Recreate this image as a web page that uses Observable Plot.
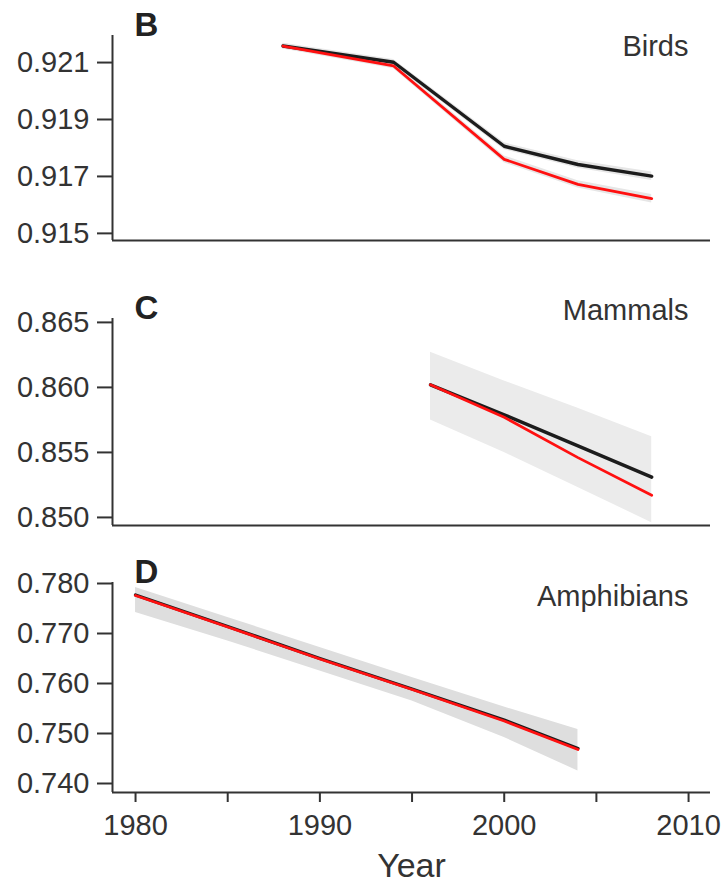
<!DOCTYPE html>
<html>
<head>
<meta charset="utf-8">
<script src="https://cdn.jsdelivr.net/npm/d3@7"></script>
<script src="https://cdn.jsdelivr.net/npm/@observablehq/plot@0.6"></script>
<style>
  html, body { margin: 0; padding: 0; background: #fff; }
  #chart { width: 724px; }
  #chart svg { display: block; font-family: "Liberation Sans", Arial, sans-serif; color: #333; background: #fff; }
</style>
</head>
<body>
<div id="chart"></div>
<script>
// ---- Data ----
const xTicks = [1980, 1985, 1990, 1995, 2000, 2005, 2010];

// Panel B: Birds (thin confidence halos around each line)
const birdsYears   = [1988, 1994, 2000, 2004, 2008];
const birdsBlack   = [0.92158, 0.92101, 0.91806, 0.91742, 0.91701];
const birdsRed     = [0.92158, 0.92088, 0.91760, 0.91672, 0.91622];
const birdsBlackHi = [0.92168, 0.92111, 0.91818, 0.91755, 0.91716];
const birdsBlackLo = [0.92148, 0.92091, 0.91794, 0.91729, 0.91686];
const birdsRedHi   = [0.92168, 0.92098, 0.91772, 0.91685, 0.91637];
const birdsRedLo   = [0.92148, 0.92078, 0.91748, 0.91659, 0.91607];
const birdsTicks   = [0.915, 0.917, 0.919, 0.921];

// Panel C: Mammals
const mammalsYears = [1996, 2000, 2004, 2008];
const mammalsBlack = [0.8602, 0.8579, 0.8555, 0.8531];
const mammalsRed   = [0.8602, 0.8577, 0.8546, 0.8517];
const mammalsHi    = [0.8627, 0.8605, 0.8584, 0.8562];
const mammalsLo    = [0.8575, 0.8550, 0.8523, 0.8496];
const mammalsTicks = [0.850, 0.855, 0.860, 0.865];

// Panel D: Amphibians
const amphYears = [1980, 1985, 1990, 1995, 2000, 2004];
const amphBlack = [0.7777, 0.7714, 0.7650, 0.7589, 0.7527, 0.7470];
const amphRed   = [0.7776, 0.7713, 0.7649, 0.7588, 0.7525, 0.7468];
const amphHi    = [0.7792, 0.7732, 0.7672, 0.7612, 0.7553, 0.7508];
const amphLo    = [0.7742, 0.7685, 0.7625, 0.7565, 0.7492, 0.7425];
const amphTicks = [0.740, 0.750, 0.760, 0.770, 0.780];

const panelLetters = ["B", "C", "D"];
const panelNames = ["Birds", "Mammals", "Amphibians"];
const xLabel = "Year";

// ---- Helpers ----
const xDomain = [1978.75, 2011.19];
const FONT = "Liberation Sans, Arial, sans-serif";

function rows(years, black, red) {
  return years.map((y, i) => ({year: y, black: black[i], red: red[i]}));
}
function band(years, hi, lo) {
  return years.map((y, i) => ({year: y, hi: hi[i], lo: lo[i]}));
}

function panel({data, bands, bandFill, yDomain, yTicks, height, marginTop, marginBottom, letter, name, letterDy, nameDy, bottomAxis}) {
  const marks = [
    ...bands.map(b => Plot.areaY(b, {x: "year", y1: "lo", y2: "hi", fill: bandFill})),
    Plot.lineY(data, {x: "year", y: "black", stroke: "#1c1c1c", strokeWidth: 3.4}),
    Plot.lineY(data, {x: "year", y: "red", stroke: "#ff1010", strokeWidth: 2.8}),
    Plot.axisY({ticks: yTicks, tickSize: 15, tickPadding: 8, tickFormat: d3.format(".3f"),
                fontSize: 29, label: null, stroke: "#333", strokeWidth: 2}),
    Plot.ruleX([xDomain[0]], {stroke: "#333", strokeWidth: 2}),
    Plot.ruleY([yDomain[0]], {stroke: "#333", strokeWidth: 2}),
    Plot.text([letter], {text: d => d, frameAnchor: "top-left", textAnchor: "start", lineAnchor: "middle",
                         dx: 22, dy: letterDy, fontSize: 33, fontWeight: "bold", fill: "#222"}),
    Plot.text([name], {text: d => d, frameAnchor: "top-right", textAnchor: "end", lineAnchor: "middle",
                       dx: -22, dy: nameDy, fontSize: 29, fill: "#333"})
  ];
  if (bottomAxis) {
    marks.push(
      Plot.axisX({ticks: xTicks, tickSize: 10, tickPadding: 12, fontSize: 29, label: null,
                  tickFormat: d => (d % 10 === 0 ? String(d) : ""), stroke: "#333", strokeWidth: 2}),
      Plot.text([xLabel], {text: d => d, frameAnchor: "bottom", lineAnchor: "middle", dy: 74,
                           fontSize: 34, fill: "#333"})
    );
  }
  return Plot.plot({
    width: 724, height, marginLeft: 112, marginRight: 14, marginTop, marginBottom,
    style: {fontFamily: FONT, color: "#333", background: "#fff"},
    x: bottomAxis ? {domain: xDomain} : {domain: xDomain, axis: null},
    y: {domain: yDomain},
    marks
  });
}

const chart = document.getElementById("chart");

chart.append(panel({
  data: rows(birdsYears, birdsBlack, birdsRed),
  bands: [band(birdsYears, birdsBlackHi, birdsBlackLo), band(birdsYears, birdsRedHi, birdsRedLo)],
  bandFill: "#e6e6e6",
  yDomain: [0.91475, 0.92195], yTicks: birdsTicks,
  height: 260, marginTop: 35, marginBottom: 20,
  letter: panelLetters[0], name: panelNames[0], letterDy: -10, nameDy: 11
}));

chart.append(panel({
  data: rows(mammalsYears, mammalsBlack, mammalsRed),
  bands: [band(mammalsYears, mammalsHi, mammalsLo)],
  bandFill: "#ebebeb",
  yDomain: [0.84938, 0.8653], yTicks: mammalsTicks,
  height: 280, marginTop: 58, marginBottom: 15,
  letter: panelLetters[1], name: panelNames[1], letterDy: -10, nameDy: -8
}));

chart.append(panel({
  data: rows(amphYears, amphBlack, amphRed),
  bands: [band(amphYears, amphHi, amphLo)],
  bandFill: "#dedede",
  yDomain: [0.7382, 0.7802], yTicks: amphTicks,
  height: 348, marginTop: 42, marginBottom: 96,
  letter: panelLetters[2], name: panelNames[2], letterDy: -10, nameDy: 14,
  bottomAxis: true
}));
</script>
</body>
</html>
